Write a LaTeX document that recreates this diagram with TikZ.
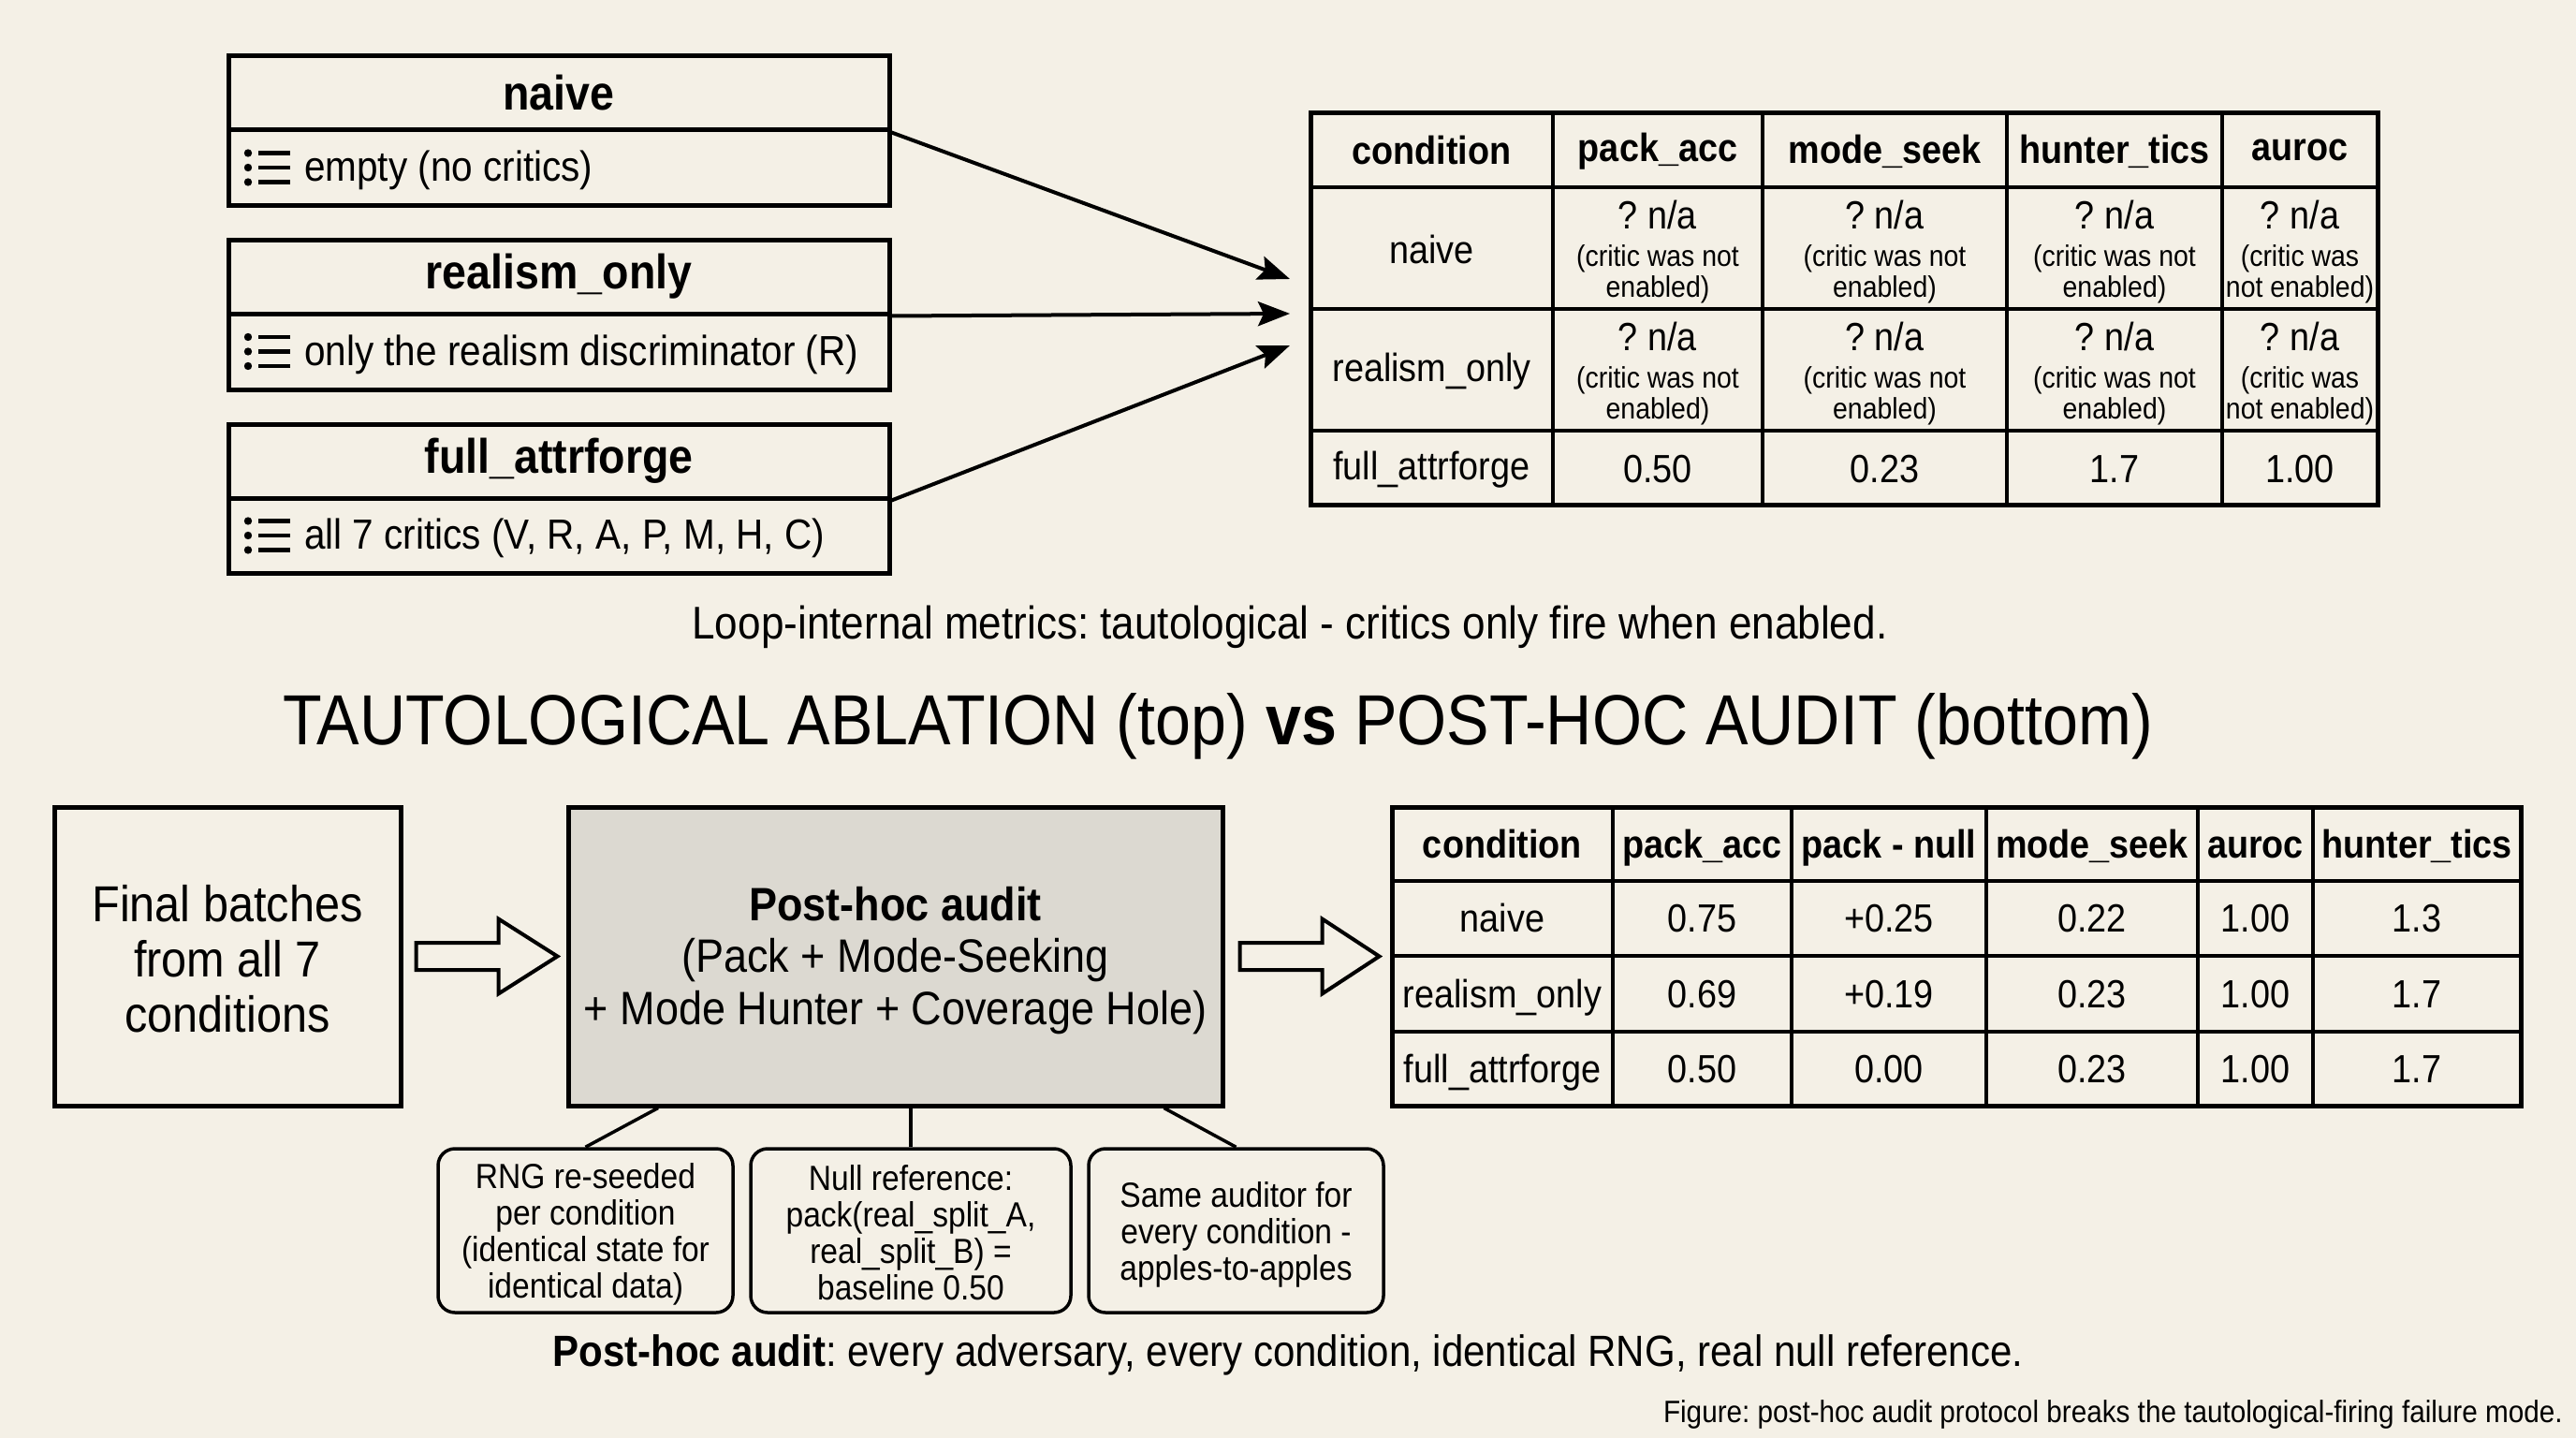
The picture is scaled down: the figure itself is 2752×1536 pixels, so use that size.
\documentclass[tikz,border=0pt]{standalone}
\usepackage{fontspec}
\setmainfont{Liberation Sans}[FakeStretch=0.9]
\usetikzlibrary{arrows.meta,calc}
\definecolor{bg}{HTML}{F4F0E6}
\definecolor{auditfill}{HTML}{DCD9D1}
\newcommand\fsz[2]{\fontsize{#1}{#2}\selectfont}
\frenchspacing
\begin{document}
\begin{tikzpicture}[x=1pt,y=-1pt,
  every node/.style={inner sep=0},
  hdr/.style={draw, line width=5, minimum width=706, minimum height=79, font=\fsz{51.7}{60}\bfseries},
  bdy/.style={draw, line width=5, minimum width=706, minimum height=80},
  btxt/.style={anchor=west, font=\fsz{45}{54}},
  conn/.style={line width=4, -{Stealth[length=34,width=26,inset=6]}},
  grid/.style={line width=4},
  th/.style={font=\fsz{42}{46}\bfseries},
  td/.style={font=\fsz{42}{46}},
  na/.style={align=center, font=\fsz{31.6}{33}},
  callout/.style={draw, line width=3.5, rounded corners=18, minimum height=175},
  ctxt/.style={align=center, font=\fsz{37.3}{39}},
  hollow/.style={line width=4, fill=bg, line join=miter},
  tie/.style={line width=3.5},
  listicon/.pic={
    \foreach \dy in {-15.5,0,15.5} {
      \fill (-21,\dy) circle (4.2);
      \draw[line width=4.5] (-10,\dy) -- (24,\dy);
    }
  }
]
\fill[bg] (0,0) rectangle (2752,1536);
\useasboundingbox (0,0) rectangle (2752,1536);

% ---------- top-left condition boxes ----------
\node[hdr] (nH) at (597,99.5) {naive};
\node[bdy] (nB) at (597,179) {};
\pic at (286,179) {listicon};
\node[btxt] (nT) at (325,182) {empty (no critics)};

\node[hdr] (rH) at (597,295.5) {realism\_only};
\node[bdy, minimum height=81] (rB) at (597,375.5) {};
\pic at (286,375.5) {listicon};
\node[btxt] (rT) at (325,378.5) {only the realism discriminator (R)};

\node[hdr] (fH) at (597,492.5) {full\_attrforge};
\node[bdy] (fB) at (597,572) {};
\pic at (286,572) {listicon};
\node[btxt] (fT) at (325,575) {all 7 critics (V, R, A, P, M, H, C)};

% ---------- top table ----------
\node[draw, line width=5, minimum width=1140, minimum height=418] (T1) at (1970,330) {};
\foreach \x in {1659,1883,2144,2374} \draw[grid] (\x,121) -- (\x,539);
\foreach \y in {200,330,460} \draw[grid] (1400,\y) -- (2540,\y);
\node[th] (t1h1) at (1529.5,160.5) {condition};
\node[th] (t1h2) at (1771,161.5) {pack\_acc};
\node[th] (t1h3) at (2013.5,161.5) {mode\_seek};
\node[th] (t1h4) at (2259,161.5) {hunter\_tics};
\node[th] (t1h5) at (2457,160.5) {auroc};
\node[td] (t1r1) at (1529.5,266) {naive};
\node[td] (t1r2) at (1529.5,397) {realism\_only};
\node[td] (t1r3) at (1529.5,501.5) {full\_attrforge};
\foreach \y [count=\j] in {269,399} {
  \foreach \x [count=\i] in {1771,2013.5,2259} {
    \node[na] (na-\j-\i) at (\x,\y) {{\fsz{42}{42}? n/a}\\[7pt](critic was not\\enabled)};
  }
  \node[na] (na-\j-4) at (2457,\y) {{\fsz{42}{42}? n/a}\\[7pt](critic was\\not enabled)};
}
\node[td] (t1v1) at (1771,501.5) {0.50};
\node[td] (t1v2) at (2013.5,501.5) {0.23};
\node[td] (t1v3) at (2259,501.5) {1.7};
\node[td] (t1v4) at (2457,501.5) {1.00};

% arrows into the top table
\coordinate (in1) at (1378,298);
\coordinate (in2) at (1378,335);
\coordinate (in3) at (1378,369);
\draw[conn] (nH.south east) -- (in1);
\draw[conn] (rH.south east) -- (in2);
\draw[conn] (fH.south east) -- (in3);

\node[font=\fsz{49}{55}] (sub) at (1378,670) {Loop-internal metrics: tautological - critics only fire when enabled.};

\node[font=\fsz{75.8}{80}] (title) at (1301,776) {TAUTOLOGICAL ABLATION (top) \textbf{vs} POST-HOC AUDIT (bottom)};

% ---------- bottom flow ----------
\node[draw, line width=5, minimum width=370, minimum height=319] (fb) at (243,1021.5) {};
\node[align=center, font=\fsz{54}{59}] (fbt) at (243,1024) {Final batches\\from all 7\\conditions};
\node[draw, line width=5, fill=auditfill, minimum width=699, minimum height=319] (ph) at (956.5,1021.5) {};
\node[align=center, font=\fsz{50}{55.5}] (pht) at (956.5,1026) {{\bfseries Post-hoc audit}\\(Pack + Mode-Seeking\\+ Mode Hunter + Coverage Hole)};

\draw[hollow] ([xshift=14]fb.east) ++(0,-14.5) -- ++(88,0) -- ++(0,-25.5) -- ++(63,40) -- ++(-63,40) -- ++(0,-25.5) -- ++(-88,0) -- cycle;
\draw[hollow] ([xshift=16]ph.east) ++(0,-14.5) -- ++(88,0) -- ++(0,-25.5) -- ++(61,40) -- ++(-61,40) -- ++(0,-25.5) -- ++(-88,0) -- cycle;

% ---------- bottom table ----------
\node[draw, line width=5, minimum width=1206, minimum height=319] (T2) at (2090,1021.5) {};
\foreach \x in {1723,1914,2122,2348,2471} \draw[grid] (\x,862) -- (\x,1181);
\foreach \y in {941,1021,1102} \draw[grid] (1487,\y) -- (2693,\y);
\foreach \t/\x [count=\i] in {condition/1605,pack\_acc/1818.5,pack - null/2018,mode\_seek/2235,auroc/2409.5,hunter\_tics/2582}
  \node[th, anchor=base] (t2h\i) at (\x,916) {\t};
\foreach \name/\y/\a/\b/\c/\d/\e [count=\j] in {naive/995/0.75/+0.25/0.22/1.00/1.3, realism\_only/1076/0.69/+0.19/0.23/1.00/1.7, full\_attrforge/1156/0.50/0.00/0.23/1.00/1.7} {
  \node[td, anchor=base] (t2r\j) at (1605,\y) {\name};
  \node[td, anchor=base] (t2a\j) at (1818.5,\y) {\a};
  \node[td, anchor=base] (t2b\j) at (2018,\y) {\b};
  \node[td, anchor=base] (t2c\j) at (2235,\y) {\c};
  \node[td, anchor=base] (t2d\j) at (2409.5,\y) {\d};
  \node[td, anchor=base] (t2e\j) at (2582,\y) {\e};
}

% ---------- callouts ----------
\node[callout, minimum width=315] (c1) at (625.5,1314.5) {};
\node[ctxt] (c1t) at (625.5,1318) {RNG re-seeded\\per condition\\(identical state for\\identical data)};
\node[callout, minimum width=342] (c2) at (973,1314.5) {};
\node[ctxt] (c2t) at (973,1316.5) {Null reference:\\pack(real\_split\_A,\\real\_split\_B) =\\baseline 0.50};
\node[callout, minimum width=315] (c3) at (1320.5,1314.5) {};
\node[ctxt] (c3t) at (1320.5,1318.5) {Same auditor for\\every condition -\\apples-to-apples};
\draw[tie] ([xshift=-253.5]ph.south) -- (c1.north);
\draw[tie] (c2.north |- ph.south) -- (c2.north);
\draw[tie] ([xshift=287]ph.south) -- (c3.north);

\node[font=\fsz{46.7}{50}] (cap) at (1376,1447) {\textbf{Post-hoc audit}: every adversary, every condition, identical RNG, real null reference.};
\node[anchor=east, font=\fsz{33}{36}] (fig) at (2738,1511) {Figure: post-hoc audit protocol breaks the tautological-firing failure mode.};
\end{tikzpicture}
\end{document}
